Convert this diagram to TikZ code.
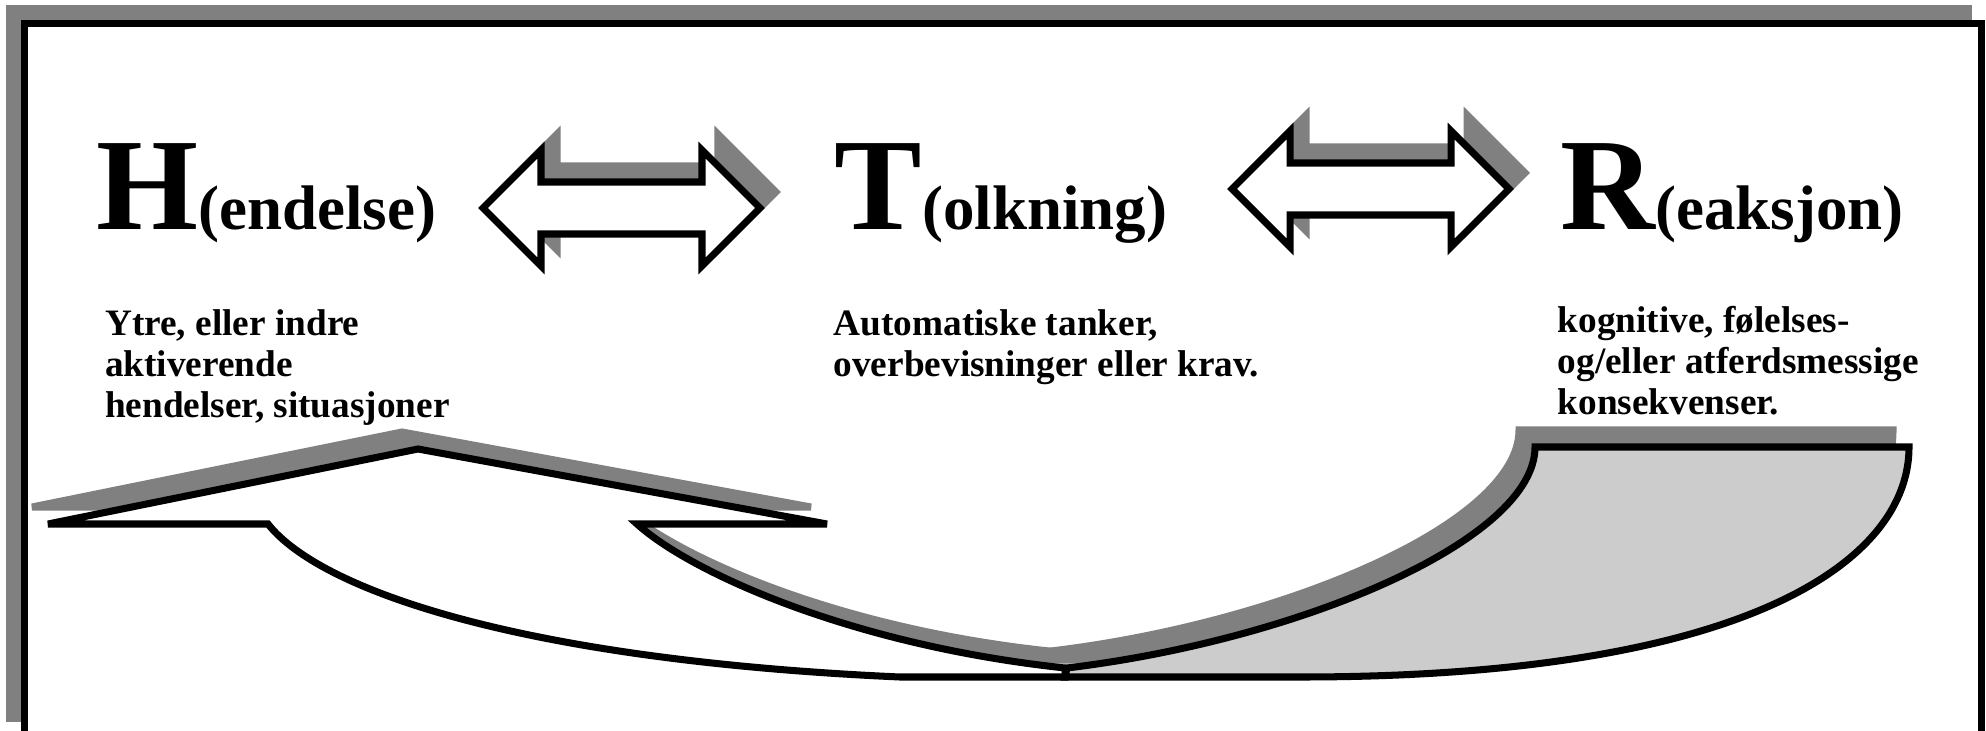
\documentclass[tikz,border=0pt]{standalone}
\usepackage{fontspec}
\setmainfont{Liberation Serif}
\definecolor{skygge}{HTML}{808080}
\definecolor{lysgraa}{HTML}{CCCCCC}
\newcommand{\tittel}[2]{{\fontsize{37.3pt}{40pt}\selectfont #1}{\fontsize{17.9pt}{20pt}\selectfont #2}}

\begin{document}
\begin{tikzpicture}[x=0.01cm, y=-0.01cm,
    strek/.style={draw=black, line width=2pt},
    skyggefelt/.style={fill=skygge, draw=skygge, line width=2pt},
    tittel/.style={anchor=base west, inner sep=0pt, font=\bfseries},
    forklaring/.style={anchor=base west, inner sep=0pt, align=left,
        font=\fontsize{10.6pt}{11.8pt}\selectfont\bfseries},
    pics/dobbelpil/.style={code={
        \path[skyggefelt, shift={(16,-16)}] (-138.5,0) -- (-80.5,-58) -- (-80.5,-26) -- (80.5,-26) -- (80.5,-58)
            -- (138.5,0) -- (80.5,58) -- (80.5,26) -- (-80.5,26) -- (-80.5,58) -- cycle;
        \path[strek, fill=white] (-138.5,0) -- (-80.5,-58) -- (-80.5,-26) -- (80.5,-26) -- (80.5,-58)
            -- (138.5,0) -- (80.5,58) -- (80.5,26) -- (-80.5,26) -- (-80.5,58) -- cycle;
    }}]
    \useasboundingbox (0,0) rectangle (1986,731);
    \clip (0,0) rectangle (1986,731);

    % ramme med skygge
    \fill[skygge] (6,5) rectangle (1972,722);
    \draw[strek, fill=white] (24.5,23.5) rectangle (1981,745);

    % H - T - R
    \node[tittel] (hend) at (95.5,230) {\tittel{H}{(endelse)}};
    \node[tittel] (tolk) at (834,230) {\tittel{T}{(olkning)}};
    \node[tittel] (reak) at (1560,230) {\tittel{R}{(eaksjon)}};

    \pic at (621.5,208) {dobbelpil};
    \pic at (1370.5,189) {dobbelpil};

    % base = siste linje
    \node[forklaring] (hendtekst) at (104.5,418) {Ytre, eller indre\\aktiverende\\hendelser, situasjoner};
    \node[forklaring] (tolktekst) at (833,377) {Automatiske tanker,\\overbevisninger eller krav.};
    \node[forklaring] (reaktekst) at (1557,415) {kognitive, følelses-\\og/eller atferdsmessige\\konsekvenser.};

    % buet pil tilbake til H
    \begin{scope}[shift={(-16,-17)}]
        \path[skyggefelt] (268,524) -- (48,524) -- (418,449) -- (827,524) -- (637,524)
            .. controls (690,572) and (850,645) .. (1065,668) -- (1065,677) -- (900,677)
            .. controls (520,660) and (320,590) .. (268,524) -- cycle;
        \path[skyggefelt] (1535,447) -- (1909,447) .. controls (1909,560) and (1750,677) .. (1300,677)
            -- (1065,677) -- (1067,668) .. controls (1300,640) and (1535,540) .. (1535,447) -- cycle;
    \end{scope}
    \path[strek, fill=white] (268,524) -- (48,524) -- (418,449) -- (827,524) -- (637,524)
        .. controls (690,572) and (850,645) .. (1065,668) -- (1065,677) -- (900,677)
        .. controls (520,660) and (320,590) .. (268,524) -- cycle;
    \path[strek, fill=lysgraa] (1535,447) -- (1909,447) .. controls (1909,560) and (1750,677) .. (1300,677)
        -- (1065,677) -- (1067,668) .. controls (1300,640) and (1535,540) .. (1535,447) -- cycle;
\end{tikzpicture}
\end{document}
